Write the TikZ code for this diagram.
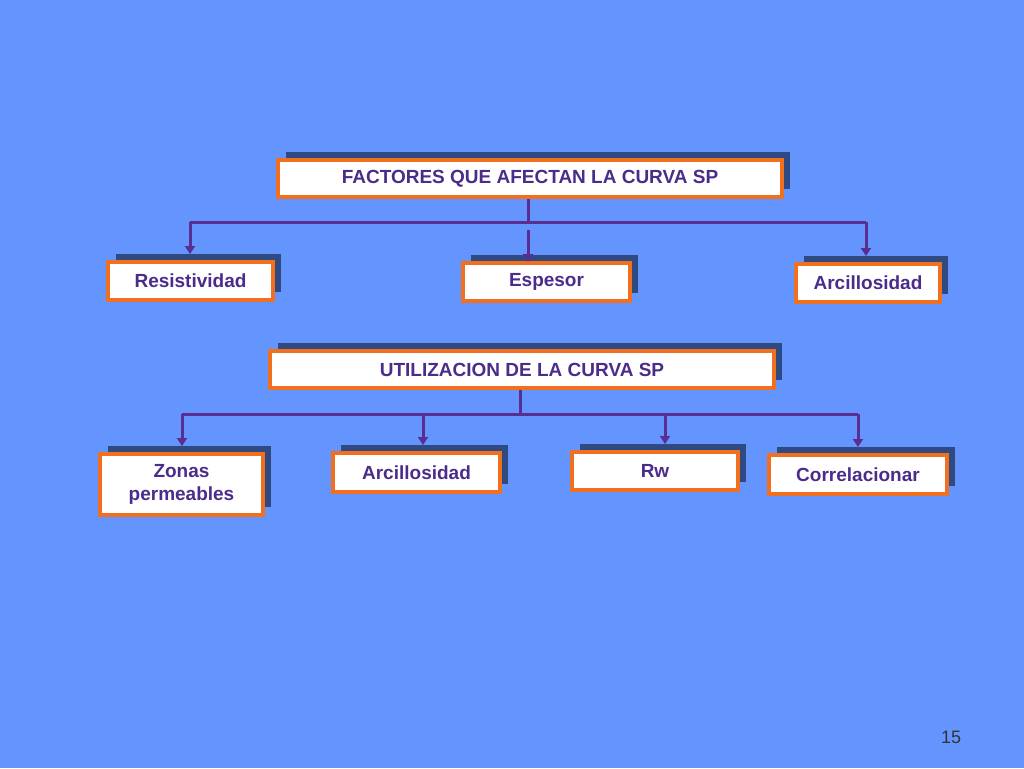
\documentclass[tikz,border=0pt]{standalone}
\usepackage{fontspec}
\setmainfont{Liberation Sans}
\usetikzlibrary{arrows.meta}
\definecolor{bg}{HTML}{6495FF}
\definecolor{sh}{HTML}{2E4A80}
\definecolor{tx}{HTML}{4B2C8A}
\definecolor{ln}{HTML}{5A2D91}
\definecolor{or}{HTML}{F07020}
\begin{document}
\begin{tikzpicture}[x=1pt,y=-1pt,
 conn/.style={draw=ln,line width=3pt},
 arr/.style={conn,-{Triangle[length=8pt,width=10pt]}}]
\fill[bg] (0,0) rectangle (1024,768);
\useasboundingbox (0,0) rectangle (1024,768);
\newcommand{\bx}[6]{%
 \fill[sh] (#2+8,#3-8) rectangle (#4+8,#5-8);
 \node[draw=or,line width=3.5pt,fill=white,minimum width=#4-#2,minimum height=#5-#3,inner sep=0pt,align=center,text=tx,font=\bfseries\fontsize{19}{23}\selectfont] (#1) at ({(#2+#4)/2},{(#3+#5)/2}) {#6};}
\bx{f}{278}{160}{782}{197}{FACTORES QUE AFECTAN LA CURVA SP}
\bx{r}{108}{262}{273}{300}{Resistividad}
\bx{e}{463}{263}{630}{301}{Espesor}
\bx{a}{796}{264}{940}{302}{Arcillosidad}
\bx{u}{270}{351}{774}{388}{UTILIZACION DE LA CURVA SP}
\bx{z}{100}{454}{263}{515}{Zonas\\permeables}
\bx{a2}{333}{453}{500}{492}{Arcillosidad}
\bx{w}{572}{452}{738}{490}{Rw}
\bx{c}{769}{455}{947}{494}{Correlacionar}
\coordinate (j1) at (528,222);
\coordinate (j2) at (520,414);
\draw[conn] (f.south -| j1) -- (j1);
\draw[conn] (190,222) -- (866,222);
\draw[arr] (190,222) -- (190,254);
\draw[arr] (528,230) -- (528,262);
\draw[arr] (866,222) -- (866,256);
\draw[conn] (u.south -| j2) -- (j2);
\draw[conn] (182,414) -- (858,414);
\draw[arr] (182,414) -- (182,446);
\draw[arr] (423,414) -- (423,445);
\draw[arr] (665,414) -- (665,444);
\draw[arr] (858,414) -- (858,447);
\node[font=\fontsize{18}{20}\selectfont,text=black!80] (n) at (951,737) {15};
\end{tikzpicture}
\end{document}
